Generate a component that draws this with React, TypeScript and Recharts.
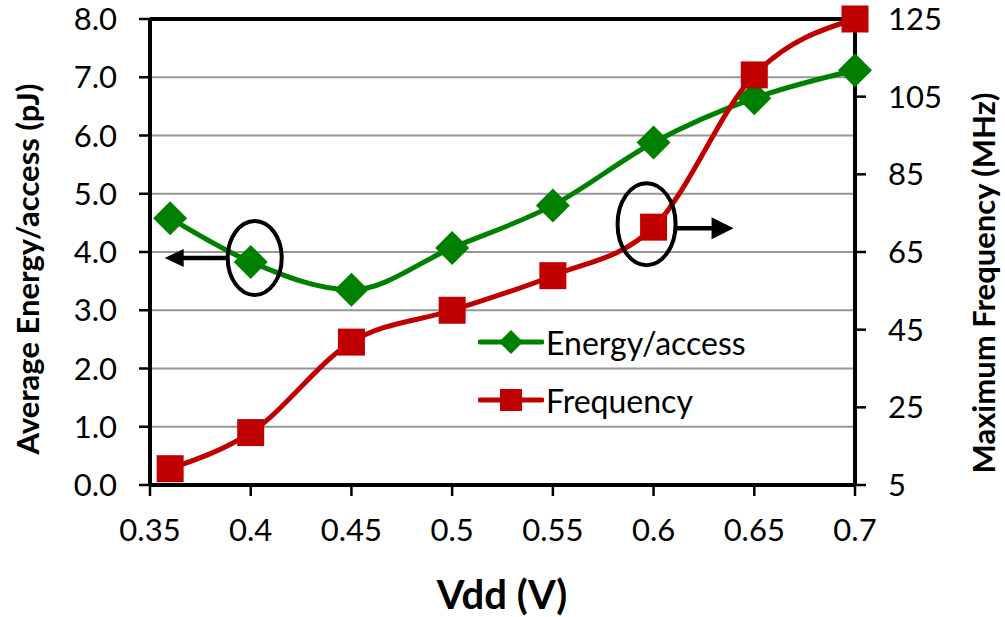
import React from 'react'
import { LineChart, Line, XAxis, YAxis, CartesianGrid, ReferenceLine, ReferenceDot } from 'recharts'

const vdd = [0.36, 0.4, 0.45, 0.5, 0.55, 0.6, 0.65, 0.7]
const energy = [4.58, 3.83, 3.35, 4.07, 4.8, 5.88, 6.64, 7.12]
const frequency = [9.2, 18.5, 41.8, 50, 58.9, 71.4, 110.6, 125]

const xTicks = [0.35, 0.4, 0.45, 0.5, 0.55, 0.6, 0.65, 0.7]
const energyTicks = [0, 1, 2, 3, 4, 5, 6, 7, 8]
const freqTicks = [5, 25, 45, 65, 85, 105, 125]

const GREEN = '#008000'
const RED = '#c00000'
const FONT = 'Lato, "Open Sans", sans-serif'

const data = vdd.map((v, i) => ({ vdd: v, energy: energy[i], freq: frequency[i] }))

function Diamond({ cx, cy, r = 17, color = GREEN }: any) {
  return <polygon points={`${cx},${cy - r} ${cx + r},${cy} ${cx},${cy + r} ${cx - r},${cy}`} fill={color} />
}

function Square({ cx, cy, s = 27, color = RED }: any) {
  return <rect x={cx - s / 2} y={cy - s / 2} width={s} height={s} fill={color} />
}

// circled point + arrow pointing to the axis it belongs to
function LeftNote({ cx, cy }: any) {
  if (cx == null) return null
  const y = cy - 4
  return (
    <g>
      <ellipse cx={cx + 4} cy={y} rx={27} ry={37} fill="none" stroke="#000" strokeWidth={4} />
      <line x1={cx - 23} y1={y} x2={cx - 68} y2={y} stroke="#000" strokeWidth={4.5} />
      <polygon points={`${cx - 86},${y} ${cx - 67},${y - 9} ${cx - 67},${y + 9}`} fill="#000" />
    </g>
  )
}

function RightNote({ cx, cy }: any) {
  if (cx == null) return null
  return (
    <g>
      <ellipse cx={cx - 7} cy={cy - 3} rx={29} ry={41} fill="none" stroke="#000" strokeWidth={4} />
      <line x1={cx + 22} y1={cy + 1} x2={cx + 60} y2={cy + 1} stroke="#000" strokeWidth={4.5} />
      <polygon points={`${cx + 80},${cy + 1} ${cx + 58},${cy - 10} ${cx + 58},${cy + 12}`} fill="#000" />
    </g>
  )
}

const legendItems = [
  { name: 'Energy/access', color: GREEN, marker: 'diamond' },
  { name: 'Frequency', color: RED, marker: 'square' },
]

function LegendBox() {
  return (
    <div style={{ position: 'absolute', left: 478, top: 321, fontFamily: FONT, fontSize: 32 }}>
      {legendItems.map((it) => (
        <div key={it.name} style={{ display: 'flex', alignItems: 'center', height: 42, marginBottom: 16 }}>
          <svg width={66} height={40}>
            <line x1={2} y1={20} x2={64} y2={20} stroke={it.color} strokeWidth={5} strokeLinecap="round" />
            {it.marker === 'diamond'
              ? <Diamond cx={33} cy={20} r={12} color={it.color} />
              : <Square cx={33} cy={20} s={22} color={it.color} />}
          </svg>
          <span style={{ marginLeft: 2 }}>{it.name}</span>
        </div>
      ))}
    </div>
  )
}

const tickStyle = { fill: '#000', fontSize: 31, fontFamily: FONT }

export default function App() {
  return (
    <div style={{ position: 'absolute', left: 0, top: 0, width: 1005, height: 617, background: '#fff', fontFamily: FONT }}>
      <LineChart width={1005} height={617} data={data} margin={{ top: 19, right: 70, bottom: 72, left: 70 }}>
        <CartesianGrid vertical={false} yAxisId="left" stroke="#969696" strokeWidth={2} />
        <XAxis
          dataKey="vdd"
          type="number"
          domain={[0.35, 0.7]}
          ticks={xTicks}
          height={60}
          tick={tickStyle}
          tickSize={11}
          tickMargin={23}
          axisLine={{ stroke: '#000', strokeWidth: 4 }}
          tickLine={{ stroke: '#000', strokeWidth: 2.5 }}
        />
        <YAxis
          yAxisId="left"
          domain={[0, 8]}
          ticks={energyTicks}
          width={80}
          tick={tickStyle}
          tickFormatter={(v: number) => v.toFixed(1)}
          tickSize={11}
          tickMargin={22}
          axisLine={{ stroke: '#000', strokeWidth: 4 }}
          tickLine={{ stroke: '#000', strokeWidth: 2.5 }}
        />
        <YAxis
          yAxisId="right"
          orientation="right"
          domain={[5, 125]}
          ticks={freqTicks}
          width={80}
          tick={tickStyle}
          tickSize={11}
          tickMargin={22}
          axisLine={{ stroke: '#000', strokeWidth: 4 }}
          tickLine={{ stroke: '#000', strokeWidth: 2.5 }}
        />
        <ReferenceLine yAxisId="left" y={8} stroke="#000" strokeWidth={4} />
        <Line
          yAxisId="left"
          dataKey="energy"
          type="monotone"
          stroke={GREEN}
          strokeWidth={5}
          dot={(p: any) => <Diamond key={`e${p.index}`} cx={p.cx} cy={p.cy} />}
          isAnimationActive={false}
        />
        <Line
          yAxisId="right"
          dataKey="freq"
          type="monotone"
          stroke={RED}
          strokeWidth={5}
          dot={(p: any) => <Square key={`f${p.index}`} cx={p.cx} cy={p.cy} />}
          isAnimationActive={false}
        />
        <ReferenceDot yAxisId="left" x={vdd[1]} y={energy[1]} shape={(p: any) => <LeftNote {...p} />} />
        <ReferenceDot yAxisId="right" x={vdd[5]} y={frequency[5]} shape={(p: any) => <RightNote {...p} />} />
      </LineChart>
      <LegendBox />
      <div
        style={{
          position: 'absolute', left: 27, top: 269, transform: 'translate(-50%, -50%) rotate(-90deg)',
          whiteSpace: 'nowrap', fontWeight: 700, fontSize: 31,
        }}
      >
        Average Energy/access (pJ)
      </div>
      <div
        style={{
          position: 'absolute', left: 983, top: 283, transform: 'translate(-50%, -50%) rotate(-90deg)',
          whiteSpace: 'nowrap', fontWeight: 700, fontSize: 31,
        }}
      >
        Maximum Frequency (MHz)
      </div>
      <div
        style={{
          position: 'absolute', left: 502, top: 594, transform: 'translate(-50%, -50%)',
          whiteSpace: 'nowrap', fontWeight: 700, fontSize: 40,
        }}
      >
        Vdd (V)
      </div>
    </div>
  )
}
